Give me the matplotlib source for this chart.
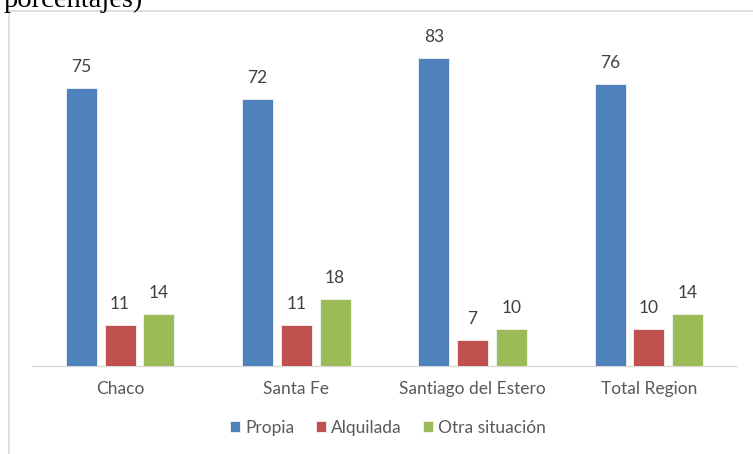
import matplotlib
matplotlib.use("Agg")
import matplotlib.pyplot as plt
from matplotlib.lines import Line2D
import numpy as np

categories = ["Chaco", "Santa Fe", "Santiago del Estero", "Total Region"]
series_names = ["Propia", "Alquilada", "Otra situación"]
propia = [75, 72, 83, 76]
alquilada = [11, 11, 7, 10]
otra = [14, 18, 10, 14]
colors = ["#4F81BD", "#C0504D", "#9BBB59"]

W, H = 753, 454
fig = plt.figure(figsize=(W / 100, H / 100), dpi=100)
fig.patch.set_facecolor("white")

# axes placement in pixels
ax_left, ax_right, ax_top, ax_bottom = 32, 737, 30, 366
ax = fig.add_axes([ax_left / W, 1 - ax_bottom / H, (ax_right - ax_left) / W, (ax_bottom - ax_top) / H])
px_per_unit = 3.707
ax.set_ylim(0, (ax_bottom - ax_top) / px_per_unit)
ax.set_xlim(-0.5, len(categories) - 0.5)

x = np.arange(len(categories))
bw = 0.175
step = 0.22
txt_color = "#595959"
font = "Lato"
fs = 12.5
for i, (vals, c, name) in enumerate(zip([propia, alquilada, otra], colors, series_names)):
    pos = x + (i - 1) * step
    ax.bar(pos, vals, width=bw, color=c, edgecolor="#f4f4f4", linewidth=0.6, label=name, zorder=3)
    for xp, v in zip(pos, vals):
        ax.annotate(str(v), (xp, v), xytext=(0, 15), textcoords="offset points",
                    ha="center", va="center", fontsize=fs, color="#404040", family=font)

for s in ["top", "right", "left"]:
    ax.spines[s].set_visible(False)
ax.spines["bottom"].set_color("#D9D9D9")
ax.spines["bottom"].set_linewidth(1)
ax.set_yticks([])
ax.set_xticks(x)
ax.set_xticklabels(categories, fontsize=fs, color=txt_color, family=font)
ax.tick_params(axis="x", length=0, pad=11)

leg = fig.legend(loc="center", bbox_to_anchor=(388 / W, 1 - 428 / H), ncol=3, frameon=False,
                 handlelength=0.6, handleheight=0.6, handletextpad=0.3, columnspacing=1.2,
                 prop={"family": font, "size": fs})
for t in leg.get_texts():
    t.set_color(txt_color)

# chart border lines
fig.add_artist(Line2D([8.5 / W, 1], [1 - 10.5 / H, 1 - 10.5 / H], color="#D9D9D9", lw=1.2, transform=fig.transFigure))
fig.add_artist(Line2D([8.5 / W, 8.5 / W], [0, 1 - 10.5 / H], color="#D9D9D9", lw=1.2, transform=fig.transFigure))

# cut-off heading text (partially above the top edge, as in the reference)
fig.text(4 / W, 1 - 7 / H, "porcentajes)", family="Liberation Serif", fontsize=20.5, color="black",
         ha="left", va="baseline")

fig.savefig("out.png", dpi=100)
